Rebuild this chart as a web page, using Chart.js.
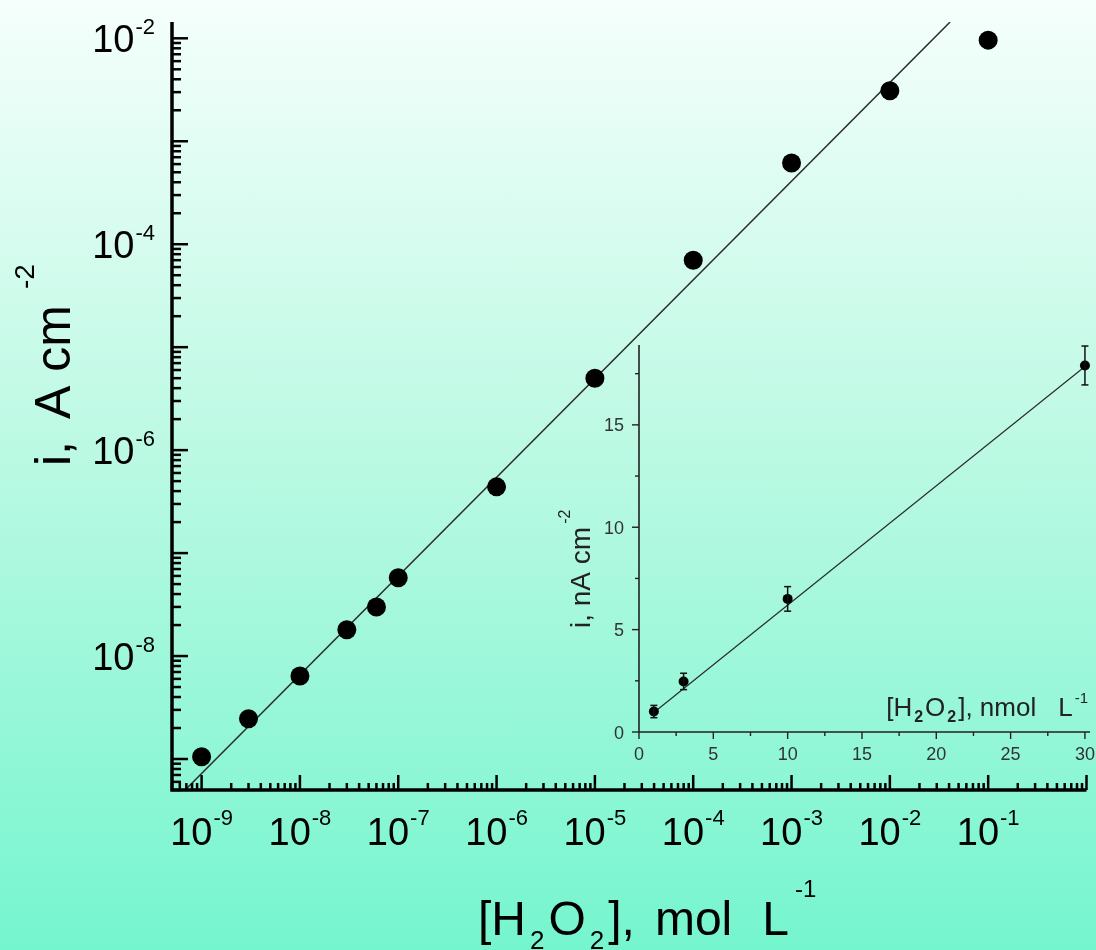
<!DOCTYPE html>
<html lang="en">
<head>
<meta charset="UTF-8">
<title>H2O2 calibration</title>
<script src="https://cdn.jsdelivr.net/npm/chart.js"></script>
<style>
    html, body { margin: 0; padding: 0; }
    body {
        width: 1096px; height: 950px; overflow: hidden;
        background: linear-gradient(to bottom, #f5fffb 0%, #b8f9e2 50%, #75f5ce 100%);
    }
    .wrap { position: relative; width: 1096px; height: 950px; }
    #mainChart { position: absolute; left: 0; top: 0; }
    #insetChart { position: absolute; left: 540px; top: 330px; }
</style>
</head>
<body>
<div class="wrap">
    <canvas id="mainChart" width="1096" height="950"></canvas>
    <canvas id="insetChart" width="556" height="450"></canvas>
</div>

<script>
    // main log-log plot: concentration (mol/L) vs current density (A/cm2)
    const concMol = [1e-9, 3e-9, 1e-8, 3e-8, 6e-8, 1e-7, 1e-6, 1e-5, 1e-4, 1e-3, 1e-2, 1e-1];
    const currentA = [1.05e-9, 2.46e-9, 6.4e-9, 1.8e-8, 3.0e-8, 5.75e-8, 4.4e-7, 5.0e-6, 7.0e-5, 6.15e-4, 3.1e-3, 9.6e-3];
    const fitConcMol = [6.8e-10, 4.1e-2];
    const fitCurrentA = [5.0e-10, 1.44e-2];
    const xTickExps = [-9, -8, -7, -6, -5, -4, -3, -2, -1];
    const yTickExps = [-8, -6, -4, -2];

    // inset: linear range, nmol/L vs nA/cm2
    const concNmol = [1, 3, 10, 30];
    const currentNA = [1.0, 2.47, 6.5, 17.9];
    const currentErr = [0.3, 0.4, 0.6, 0.95];
    const fitConcNmol = [1, 30];
    const fitCurrentNA = [0.95, 17.85];
    const insetXTicks = [0, 5, 10, 15, 20, 25, 30];
    const insetYTicks = [0, 5, 10, 15];

    const FAMILY = '"Liberation Sans", Arial, sans-serif';
    const fontOf = p => (p.bold ? 'bold ' : '') + p.size + 'px ' + FAMILY;

    // text made of pieces (normal / sub / superscript)
    function richWidth(ctx, parts) {
        let w = 0;
        parts.forEach(p => { ctx.font = fontOf(p); w += (p.gap || 0) + ctx.measureText(p.t).width; });
        return w;
    }
    function drawRich(ctx, x, y, parts) {
        ctx.textAlign = 'left';
        ctx.textBaseline = 'alphabetic';
        parts.forEach(p => {
            ctx.font = fontOf(p);
            x += p.gap || 0;
            ctx.fillText(p.t, x, y + (p.dy || 0));
            x += ctx.measureText(p.t).width;
        });
    }

    function logTicks(scale) {
        const out = [];
        const lo = Math.floor(Math.log10(scale.min));
        const hi = Math.ceil(Math.log10(scale.max));
        for (let e = lo; e <= hi; e++) {
            for (let m = 1; m <= 9; m++) {
                const v = Number(m + 'e' + e);
                if (v >= scale.min && v <= scale.max) out.push({ v, major: m === 1 });
            }
        }
        return out;
    }

    function seg(ctx, x1, y1, x2, y2) {
        ctx.beginPath();
        ctx.moveTo(x1, y1);
        ctx.lineTo(x2, y2);
        ctx.stroke();
    }

    const mainDecor = {
        id: 'mainDecor',
        afterDraw(chart) {
            const { ctx, chartArea: a, scales: { x, y } } = chart;
            ctx.save();
            ctx.strokeStyle = '#000';
            ctx.fillStyle = '#000';

            // axes
            ctx.lineWidth = 3.5;
            ctx.beginPath();
            ctx.moveTo(a.left, a.top);
            ctx.lineTo(a.left, a.bottom);
            ctx.lineTo(a.right, a.bottom);
            ctx.stroke();

            // ticks point inwards
            ctx.lineWidth = 2.5;
            logTicks(x).forEach(t => {
                const px = x.getPixelForValue(t.v);
                seg(ctx, px, a.bottom, px, a.bottom - (t.major ? 15 : 7));
            });
            logTicks(y).forEach(t => {
                const py = y.getPixelForValue(t.v);
                seg(ctx, a.left, py, a.left + (t.major ? 16 : 9), py);
            });

            // decade labels
            xTickExps.forEach(e => {
                const parts = [{ t: '10', size: 38 }, { t: String(e), size: 22, dy: -20, gap: 1 }];
                const px = x.getPixelForValue(Number('1e' + e));
                drawRich(ctx, px - richWidth(ctx, parts) / 2, 845, parts);
            });
            yTickExps.forEach(e => {
                const parts = [{ t: '10', size: 38 }, { t: String(e), size: 22, dy: -18, gap: 1 }];
                const py = y.getPixelForValue(Number('1e' + e));
                drawRich(ctx, 155 - richWidth(ctx, parts), py + 14, parts);
            });

            // x title
            drawRich(ctx, 478, 935, [
                { t: '[H', size: 48 },
                { t: '2', size: 26, dy: 14, gap: 4 },
                { t: 'O', size: 48, gap: 4 },
                { t: '2', size: 26, dy: 14, gap: 4 },
                { t: '],', size: 48, gap: 4 },
                { t: 'mol', size: 48, gap: 20 },
                { t: 'L', size: 48, gap: 30 },
                { t: '-1', size: 24, dy: -38, gap: 6 }
            ]);

            // y title (rotated)
            ctx.save();
            ctx.translate(70, 466);
            ctx.rotate(-Math.PI / 2);
            drawRich(ctx, 0, 0, [
                { t: 'i,', size: 50 },
                { t: 'A cm', size: 50, gap: 22 },
                { t: '-2', size: 28, dy: -36, gap: 16 }
            ]);
            ctx.restore();
            ctx.restore();
        }
    };

    const insetDecor = {
        id: 'insetDecor',
        afterDatasetsDraw(chart) {
            const { ctx, scales: { x, y } } = chart;
            ctx.save();
            ctx.strokeStyle = '#111';
            ctx.lineWidth = 1.5;
            concNmol.forEach((c, i) => {
                const px = x.getPixelForValue(c);
                const top = y.getPixelForValue(currentNA[i] + currentErr[i]);
                const bot = y.getPixelForValue(currentNA[i] - currentErr[i]);
                seg(ctx, px, top, px, bot);
                seg(ctx, px - 3.5, top, px + 3.5, top);
                seg(ctx, px - 3.5, bot, px + 3.5, bot);
            });
            ctx.restore();
        },
        afterDraw(chart) {
            const { ctx, chartArea: a, scales: { x, y } } = chart;
            ctx.save();
            ctx.strokeStyle = '#222';
            ctx.fillStyle = '#333';
            ctx.lineWidth = 1.6;
            ctx.beginPath();
            ctx.moveTo(a.left, a.top);
            ctx.lineTo(a.left, a.bottom);
            ctx.lineTo(a.right, a.bottom);
            ctx.stroke();

            // outward ticks, minor at the half steps
            ctx.lineWidth = 1.4;
            for (let v = 0; v <= x.max; v += 2.5) {
                const px = x.getPixelForValue(v);
                seg(ctx, px, a.bottom, px, a.bottom + (v % 5 === 0 ? 7 : 4));
            }
            for (let v = 0; v <= y.max; v += 2.5) {
                const py = y.getPixelForValue(v);
                seg(ctx, a.left, py, a.left - (v % 5 === 0 ? 7 : 4), py);
            }

            ctx.font = '18px ' + FAMILY;
            ctx.textBaseline = 'alphabetic';
            ctx.textAlign = 'center';
            insetXTicks.forEach(v => ctx.fillText(String(v), x.getPixelForValue(v), a.bottom + 28));
            ctx.textAlign = 'right';
            insetYTicks.forEach(v => ctx.fillText(String(v), a.left - 15, y.getPixelForValue(v) + 6.5));

            ctx.fillStyle = '#222';
            const xTitle = [
                { t: '[H', size: 26 },
                { t: '2', size: 16, bold: true, dy: 6, gap: 2 },
                { t: 'O', size: 26, gap: 2 },
                { t: '2', size: 16, bold: true, dy: 6, gap: 2 },
                { t: '], nmol', size: 26, gap: 2 },
                { t: 'L', size: 26, gap: 22 },
                { t: '-1', size: 15, dy: -13, gap: 2 }
            ];
            drawRich(ctx, a.right - 2 - richWidth(ctx, xTitle), 386, xTitle);

            ctx.save();
            ctx.translate(50, 298);
            ctx.rotate(-Math.PI / 2);
            drawRich(ctx, 0, 0, [
                { t: 'i, nA cm', size: 28 },
                { t: '-2', size: 16, dy: -20, gap: 3 }
            ]);
            ctx.restore();
            ctx.restore();
        }
    };

    const hiddenScale = (type, min, max) => ({ type, min, max, display: false });

    new Chart(document.getElementById('mainChart'), {
        type: 'scatter',
        data: {
            datasets: [{
                data: concMol.map((c, i) => ({ x: c, y: currentA[i] })),
                showLine: false,
                pointRadius: 9.5,
                pointBackgroundColor: '#000',
                pointBorderColor: '#000',
                pointBorderWidth: 0
            }, {
                data: fitConcMol.map((c, i) => ({ x: c, y: fitCurrentA[i] })),
                showLine: true,
                pointRadius: 0,
                borderColor: '#2b2b2b',
                borderWidth: 1.5
            }]
        },
        options: {
            responsive: false,
            animation: false,
            layout: { padding: { left: 172, top: 22, right: 0, bottom: 160 } },
            plugins: { legend: { display: false }, tooltip: { enabled: false } },
            scales: {
                x: hiddenScale('logarithmic', 5e-10, 1),
                y: hiddenScale('logarithmic', 5e-10, 1.44e-2)
            }
        },
        plugins: [mainDecor]
    });

    new Chart(document.getElementById('insetChart'), {
        type: 'scatter',
        data: {
            datasets: [{
                data: concNmol.map((c, i) => ({ x: c, y: currentNA[i] })),
                showLine: false,
                pointRadius: 5,
                pointBackgroundColor: '#000',
                pointBorderColor: '#000',
                pointBorderWidth: 0
            }, {
                data: fitConcNmol.map((c, i) => ({ x: c, y: fitCurrentNA[i] })),
                showLine: true,
                pointRadius: 0,
                borderColor: '#2b2b2b',
                borderWidth: 1.2
            }]
        },
        options: {
            responsive: false,
            animation: false,
            layout: { padding: { left: 99, top: 15, right: 6, bottom: 48 } },
            plugins: { legend: { display: false }, tooltip: { enabled: false } },
            scales: {
                x: hiddenScale('linear', 0, 30.34),
                y: hiddenScale('linear', 0, 18.9)
            }
        },
        plugins: [insetDecor]
    });
</script>
</body>
</html>
